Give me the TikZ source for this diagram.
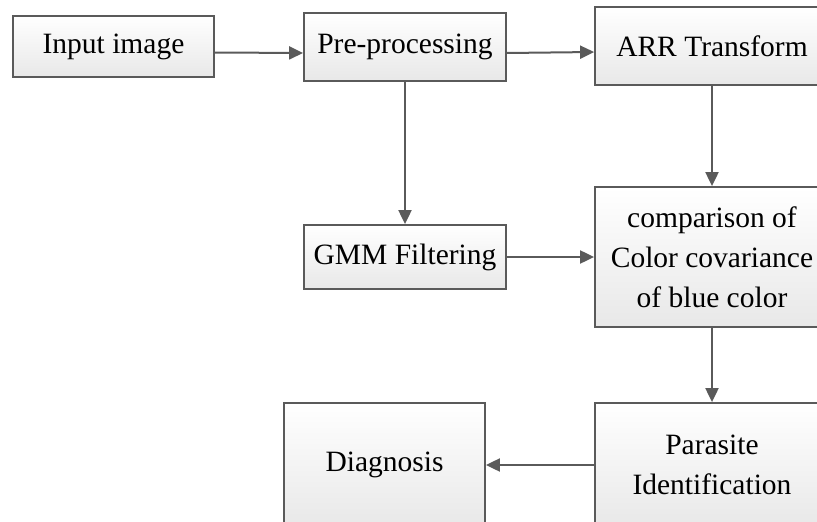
\documentclass[tikz,border=0pt]{standalone}
\usepackage{fontspec}
\setmainfont{Liberation Serif}
\newfontfamily\blockfont{Liberation Serif}
\usetikzlibrary{arrows.meta}
\definecolor{edgegray}{HTML}{5A5A5A}
\tikzset{
  blockbox/.style={draw=edgegray, line width=1.8pt, top color=white, bottom color=black!9,
    align=center, inner sep=0pt, font=\blockfont\fontsize{29.5}{40}\selectfont},
  flow/.style={draw=edgegray, line width=2pt, -{Triangle[length=14pt,width=13pt]}}
}
\begin{document}
\begin{tikzpicture}[x=1pt,y=-1pt]
      \useasboundingbox (0,0) rectangle (817,522);
      % Top row
      \node[blockbox, minimum width=201pt, minimum height=61pt] (input) at (113.5,46.5) {Input image};
      \node[blockbox, minimum width=202pt, minimum height=68pt] (pre) at (405,47) {Pre-processing};
      \node[blockbox, minimum width=234pt, minimum height=78pt] (arr) at (712,46) {ARR Transform};
      % Middle row
      \node[blockbox, minimum width=202pt, minimum height=64pt] (gmm) at (405,257) {GMM Filtering};
      \node[blockbox, minimum width=234pt, minimum height=140pt] (comp) at (712,257) {comparison of\\Color covariance\\of blue color};
      % Bottom row
      \node[blockbox, minimum width=234pt, minimum height=124pt] (para) at (712,465) {Parasite\\Identification};
      \node[blockbox, minimum width=201pt, minimum height=124pt] (diag) at (384.5,465) {Diagnosis};
      % Connectors
      \draw[flow] ([yshift=-6pt]input.east) -- ([yshift=-6pt]pre.west);
      \draw[flow] ([yshift=-6pt]pre.east) -- ([yshift=-6pt]arr.west);
      \draw[flow] (pre) -- (gmm);
      \draw[flow] (arr) -- (comp);
      \draw[flow] (gmm) -- (comp);
      \draw[flow] (comp) -- (para);
      \draw[flow] (para) -- (diag);
\end{tikzpicture}
\end{document}
